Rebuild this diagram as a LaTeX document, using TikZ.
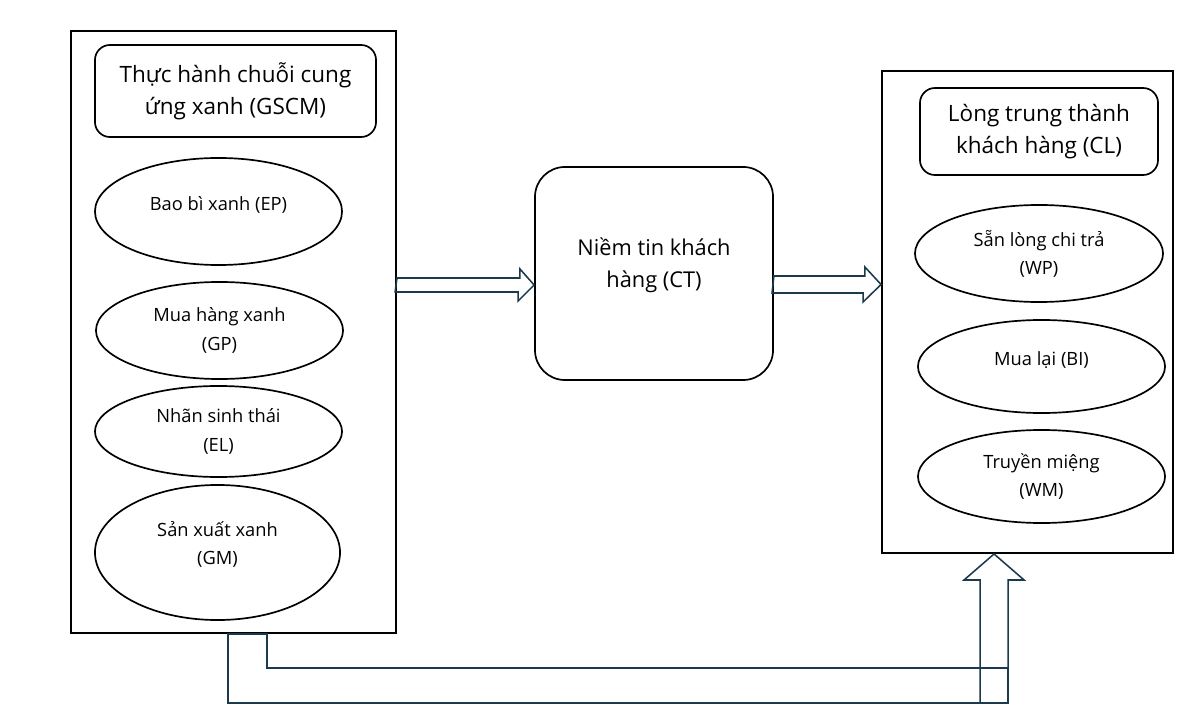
\documentclass[tikz,border=0pt]{standalone}
\usepackage{fontspec}
\setmainfont{Open Sans}
\usetikzlibrary{shapes.geometric}

\definecolor{navy}{HTML}{1B3A4B}

\tikzset{
 frame/.style={draw, line width=1.3pt, inner sep=0pt},
 title/.style={draw, rounded corners=0.375cm, line width=1.2pt, align=center,
   inner sep=0pt, font=\fontsize{16}{22.8}\selectfont},
 oval/.style={draw, ellipse, line width=1.2pt, inner sep=0pt, align=center,
   font=\fontsize{13}{20}\selectfont},
 blk/.style={draw=navy, line width=1.1pt, line join=miter}
}

\begin{document}
\begin{tikzpicture}[x=0.025cm, y=-0.025cm]
 \fill[white] (0,0) rectangle (1200,720);
 \useasboundingbox (0,0) rectangle (1200,720);
 % left block
 \node[frame, minimum width=8.125cm, minimum height=15.05cm] (gscm) at (233.5,332) {};
 \node[title, minimum width=7.025cm, minimum height=2.3cm] (gscmt) at (235.5,91)
   {Thực hành chuỗi cung\\ứng xanh (GSCM)};
 \node[oval, minimum width=6.175cm, minimum height=2.675cm, text depth=12pt] (ep) at (218.5,211.5)
   {Bao bì xanh (EP)};
 \node[oval, minimum width=6.175cm, minimum height=2.425cm] (gp) at (219.5,330.5)
   {Mua hàng xanh\\(GP)};
 \node[oval, minimum width=6.175cm, minimum height=2.275cm] (el) at (218.5,431.5)
   {Nhãn sinh thái\\(EL)};
 \node[oval, minimum width=6.125cm, minimum height=3.375cm, text depth=14pt] (gm) at (217.5,552.5)
   {Sản xuất xanh\\(GM)};
 % middle
 \node[draw, rounded corners=0.75cm, line width=1.2pt, inner sep=0pt, align=center,
   minimum width=5.95cm, minimum height=5.325cm, text depth=15pt,
   font=\fontsize{15.5}{22.8}\selectfont] (ct) at (654,273.5)
   {Niềm tin khách\\hàng (CT)};
 % right block
 \node[frame, minimum width=7.275cm, minimum height=12.05cm] (cl) at (1027.5,312) {};
 \node[title, minimum width=5.95cm, minimum height=2.175cm] (clt) at (1039,131.5)
   {Lòng trung thành\\khách hàng (CL)};
 \node[oval, minimum width=6.2cm, minimum height=2.425cm] (wp) at (1039,253.5)
   {Sẵn lòng chi trả\\(WP)};
 \node[oval, minimum width=6.175cm, minimum height=2.325cm, text depth=12pt] (bi) at (1041.5,366.5)
   {Mua lại (BI)};
 \node[oval, minimum width=6.175cm, minimum height=2.325cm] (wm) at (1041.5,476.5)
   {Truyền miệng\\(WM)};
 % arrows
 \coordinate (a1) at (gscm.east |- 0,285);
 \draw[blk] (a1) ++(0,-7) -- ++(123,0) -- ++(0,-9) -- (ct.west |- a1) -- ++(-16,16)
   -- ++(0,-9) -- ++(-123,0) -- cycle;
 \coordinate (a2) at (ct.east |- 0,284.5);
 \draw[blk] (a2) ++(0,-8.5) -- ++(91,0) -- ++(0,-9) -- (cl.west |- a2) -- ++(-18,17.5)
   -- ++(0,-9) -- ++(-91,0) -- cycle;
 \draw[blk] (gscm.south west) ++(158,0) -- ++(0,69) -- ++(780,0) -- ++(0,-35)
   -- ++(-741,0) -- ++(0,-34) -- cycle;
 \coordinate (a3) at (cl.south west);
 \draw[blk] (a3) ++(99,149) -- ++(0,-123) -- ++(-16,0) -- ([xshift=113*0.025cm]a3)
   -- ++(30,26) -- ++(-16,0) -- ++(0,123) -- cycle;
\end{tikzpicture}
\end{document}
